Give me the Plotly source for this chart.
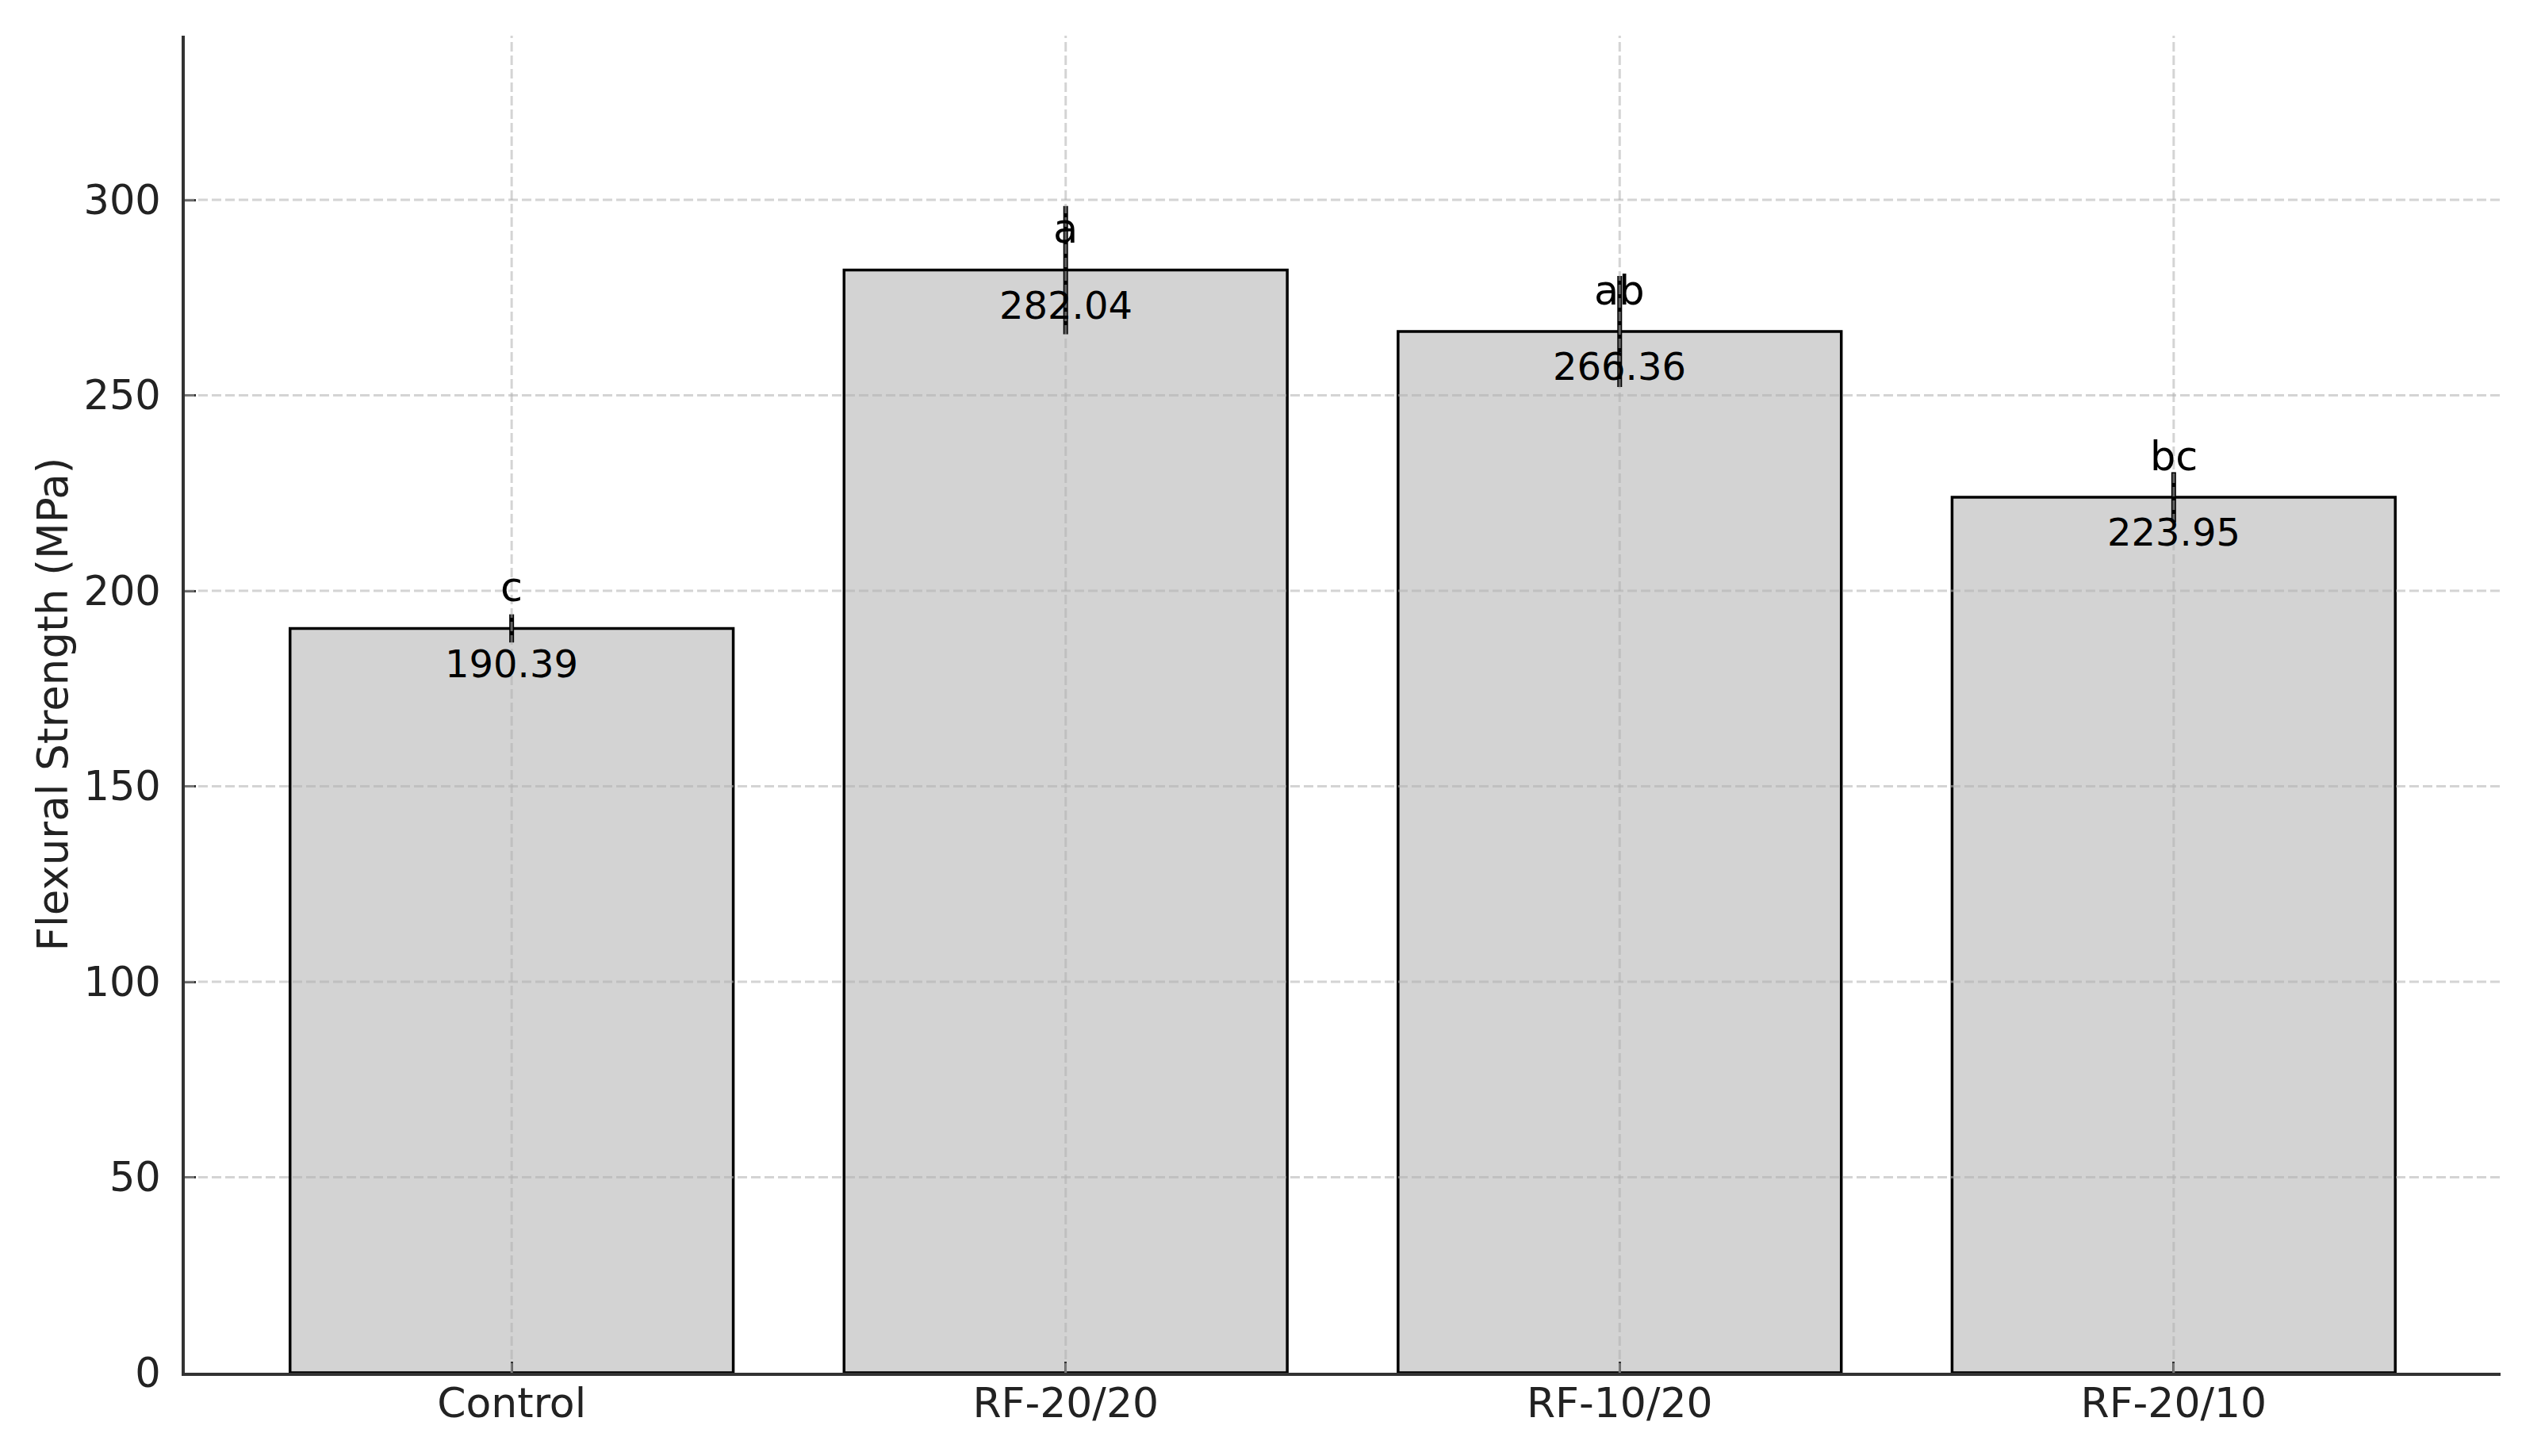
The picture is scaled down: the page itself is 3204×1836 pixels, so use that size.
import plotly.graph_objects as go

categories = ["Control", "RF-20/20", "RF-10/20", "RF-20/10"]
means = [190.39, 282.04, 266.36, 223.95]
errors = [3.6, 16.4, 14.2, 6.4]
letters = ["c", "a", "ab", "bc"]
y_ticks = [0, 50, 100, 150, 200, 250, 300]

FONT = "DejaVu Sans"
GRID = "rgba(176,176,176,0.55)"

fig = go.Figure()
fig.add_trace(go.Bar(
    x=categories, y=means, width=0.8,
    marker=dict(color="#d3d3d3", line=dict(color="black", width=3.5)),
    error_y=dict(type="data", array=errors, thickness=6, width=0, color="black"),
    showlegend=False,
))

# grid lines above the bars (matplotlib style)
for t in y_ticks[1:]:
    fig.add_shape(type="line", xref="x domain", yref="y", x0=0, x1=1, y0=t, y1=t,
                  line=dict(color=GRID, width=3, dash="12px,5px"), layer="above")
for c in categories:
    fig.add_shape(type="line", xref="x", yref="y domain", x0=c, x1=c, y0=0, y1=1,
                  line=dict(color=GRID, width=3, dash="12px,5px"), layer="above")

for c, m, l in zip(categories, means, letters):
    fig.add_annotation(x=c, y=m + 10.5, text=l, showarrow=False, yanchor="middle",
                       font=dict(family=FONT, size=51, color="black"))
    fig.add_annotation(x=c, y=m - 9, text=f"{m:.2f}", showarrow=False, yanchor="middle",
                       font=dict(family=FONT, size=48, color="black"))

fig.update_layout(
    width=3204, height=1836,
    margin=dict(l=225, r=59, t=37, b=113),
    paper_bgcolor="white", plot_bgcolor="white",
    font=dict(family=FONT, size=52, color="#222222"),
    bargap=0.2,
)
fig.update_xaxes(
    range=[-0.59, 3.59], showgrid=False, zeroline=False,
    showline=True, linecolor="#333333", linewidth=4,
    ticks="inside", ticklen=14, tickwidth=3, tickcolor="#333333",
    ticklabelstandoff=-10,
    tickfont=dict(family=FONT, size=52, color="#222222"),
)
fig.update_yaxes(
    range=[0, 342], showgrid=False, zeroline=False,
    tickvals=y_ticks,
    showline=True, linecolor="#333333", linewidth=4,
    ticks="inside", ticklen=14, tickwidth=3, tickcolor="#333333",
    ticklabelstandoff=16,
    tickfont=dict(family=FONT, size=51, color="#222222"),
    title=dict(text="Flexural Strength (MPa)", standoff=4,
               font=dict(family=FONT, size=53, color="#222222")),
)

fig.write_html("out.html")
